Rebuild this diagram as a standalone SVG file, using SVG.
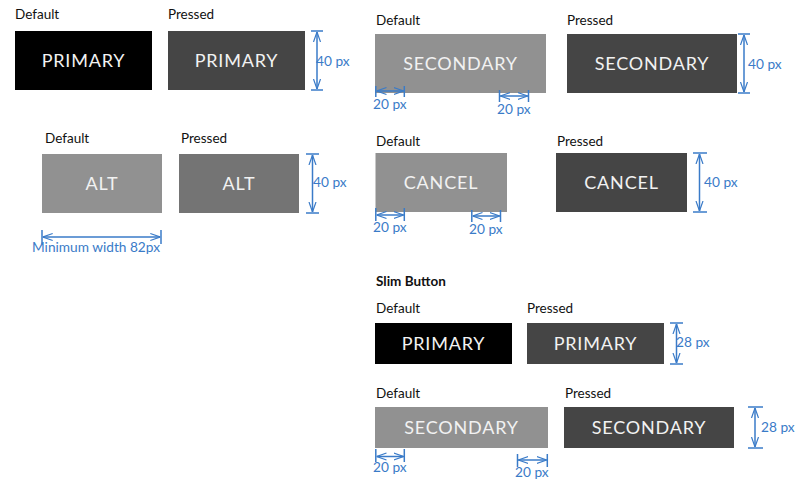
<svg xmlns="http://www.w3.org/2000/svg" width="799" height="481" viewBox="0 0 799 481">
<defs>
<marker id="ah" viewBox="0 0 10 10" refX="10" refY="5" markerWidth="10" markerHeight="10" markerUnits="userSpaceOnUse" orient="auto-start-reverse">
<path d="M0,1.5 L10,5 L0,8.5" fill="none" stroke="#3a7bc8" stroke-width="1.2"/>
</marker>
<style>
.lbl{font-family:Lato,"Noto Sans",sans-serif;font-size:13.5px;fill:#111}
.bt{font-family:Lato,"Noto Sans",sans-serif;font-size:18px;letter-spacing:0.8px;fill:#f2f2f2;text-anchor:middle}
.blk{fill:#000}
.drk{fill:#454545}
.gry{fill:#919191}
.mid{fill:#747474}
.dim line{stroke:#3a7bc8;stroke-width:1.5}
.dim line.a{marker-start:url(#ah);marker-end:url(#ah)}
.dt{font-family:Lato,"Noto Sans",sans-serif;font-size:13.7px;fill:#3a7bc8}
</style>
</defs>
<rect width="799" height="481" fill="#fff"/>

<g id="primary-default"><text class="lbl" x="15" y="19">Default</text><rect class="blk" x="15" y="31" width="137" height="59"/><text class="bt" x="83.5" y="66.5">PRIMARY</text></g>
<g id="primary-pressed"><text class="lbl" x="168" y="19">Pressed</text><rect class="drk" x="168" y="31" width="137" height="59"/><text class="bt" x="236.5" y="66.5">PRIMARY</text></g>

<g id="secondary-default"><text class="lbl" x="376" y="25">Default</text><rect class="gry" x="375" y="34" width="171" height="59"/><text class="bt" x="460.5" y="69.5">SECONDARY</text></g>
<g id="secondary-pressed"><text class="lbl" x="567" y="25">Pressed</text><rect class="drk" x="567" y="34" width="170" height="59"/><text class="bt" x="652" y="69.5">SECONDARY</text></g>

<g id="alt-default"><text class="lbl" x="45" y="143">Default</text><rect class="gry" x="42" y="154" width="120" height="59"/><text class="bt" x="102" y="189.5">ALT</text></g>
<g id="alt-pressed"><text class="lbl" x="181" y="143">Pressed</text><rect class="mid" x="179" y="154" width="120" height="59"/><text class="bt" x="239" y="189.5">ALT</text></g>

<g id="cancel-default"><text class="lbl" x="376" y="146">Default</text><rect class="gry" x="375.5" y="153" width="131.5" height="59"/><text class="bt" x="441" y="188.5">CANCEL</text></g>
<g id="cancel-pressed"><text class="lbl" x="557" y="146">Pressed</text><rect class="drk" x="556" y="153" width="131" height="59"/><text class="bt" x="621.5" y="188.5">CANCEL</text></g>

<g id="slim-title"><text class="lbl" x="376" y="286" font-weight="bold">Slim Button</text></g>
<g id="slim-primary-default"><text class="lbl" x="376" y="313">Default</text><rect class="blk" x="375" y="323" width="137" height="41"/><text class="bt" x="443.5" y="349.5">PRIMARY</text></g>
<g id="slim-primary-pressed"><text class="lbl" x="527" y="313">Pressed</text><rect class="drk" x="527" y="323" width="137" height="41"/><text class="bt" x="595.5" y="349.5">PRIMARY</text></g>
<g id="slim-secondary-default"><text class="lbl" x="376" y="398">Default</text><rect class="gry" x="375" y="407" width="173" height="41"/><text class="bt" x="461.5" y="433.5">SECONDARY</text></g>
<g id="slim-secondary-pressed"><text class="lbl" x="565" y="398">Pressed</text><rect class="drk" x="564" y="407" width="170" height="41"/><text class="bt" x="649" y="433.5">SECONDARY</text></g>

<g id="dimensions" class="dim">
<line x1="311" y1="31" x2="323" y2="31"/><line x1="311" y1="90" x2="323" y2="90"/><line class="a" x1="317" y1="32" x2="317" y2="89"/>
<text class="dt" x="316" y="66">40 px</text>
<line x1="738" y1="34" x2="750" y2="34"/><line x1="738" y1="93" x2="750" y2="93"/><line class="a" x1="744" y1="35" x2="744" y2="92"/>
<text class="dt" x="748" y="69">40 px</text>
<line x1="375.8" y1="86" x2="375.8" y2="97"/><line x1="404.3" y1="86" x2="404.3" y2="97"/><line class="a" x1="376.5" y1="91" x2="403.5" y2="91"/>
<text class="dt" x="373" y="109">20 px</text>
<line x1="499.5" y1="90" x2="499.5" y2="102"/><line x1="528.5" y1="90" x2="528.5" y2="102"/><line class="a" x1="500.2" y1="96" x2="527.8" y2="96"/>
<text class="dt" x="497" y="114">20 px</text>
<line x1="306" y1="154" x2="319" y2="154"/><line x1="306" y1="213" x2="319" y2="213"/><line class="a" x1="312.5" y1="155" x2="312.5" y2="212"/>
<text class="dt" x="313" y="187">40 px</text>
<line x1="42" y1="230" x2="42" y2="244"/><line x1="161" y1="230" x2="161" y2="244"/><line class="a" x1="42.7" y1="237" x2="160.3" y2="237"/>
<text class="dt" x="32" y="252">Minimum width 82px</text>
<line x1="693" y1="153" x2="707" y2="153"/><line x1="693" y1="212" x2="707" y2="212"/><line class="a" x1="699.5" y1="154" x2="699.5" y2="211"/>
<text class="dt" x="704" y="187">40 px</text>
<line x1="375.8" y1="208" x2="375.8" y2="221"/><line x1="404.3" y1="208" x2="404.3" y2="221"/><line class="a" x1="376.5" y1="215" x2="403.5" y2="215"/>
<text class="dt" x="373" y="232">20 px</text>
<line x1="471.8" y1="210" x2="471.8" y2="222"/><line x1="500.5" y1="210" x2="500.5" y2="222"/><line class="a" x1="472.5" y1="216" x2="499.8" y2="216"/>
<text class="dt" x="469" y="234">20 px</text>
<line x1="670" y1="323" x2="683" y2="323"/><line x1="670" y1="364" x2="683" y2="364"/><line class="a" x1="676.5" y1="324" x2="676.5" y2="363"/>
<text class="dt" x="676" y="347">28 px</text>
<line x1="748" y1="407" x2="763" y2="407"/><line x1="748" y1="448" x2="763" y2="448"/><line class="a" x1="755" y1="408" x2="755" y2="447"/>
<text class="dt" x="761" y="432">28 px</text>
<line x1="375.8" y1="449" x2="375.8" y2="462"/><line x1="404.3" y1="449" x2="404.3" y2="462"/><line class="a" x1="376.5" y1="456.5" x2="403.5" y2="456.5"/>
<text class="dt" x="373" y="472">20 px</text>
<line x1="517.5" y1="454" x2="517.5" y2="467"/><line x1="547.3" y1="454" x2="547.3" y2="467"/><line class="a" x1="518.2" y1="460" x2="546.6" y2="460"/>
<text class="dt" x="515" y="477">20 px</text>
</g>
</svg>
